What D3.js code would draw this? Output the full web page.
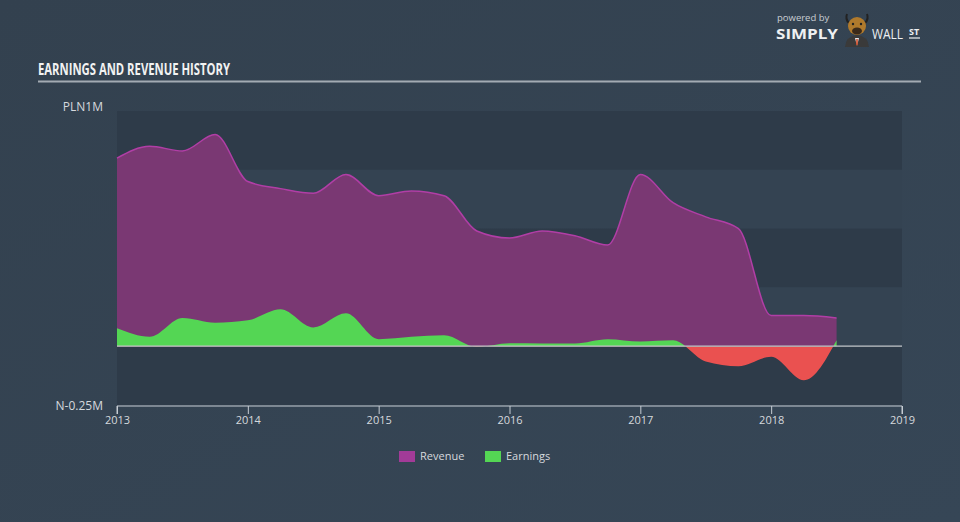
<!DOCTYPE html>
<html>
<head>
<meta charset="utf-8">
<script src="https://cdn.jsdelivr.net/npm/d3@7.9.0/dist/d3.min.js"></script>
<style>
  html, body { margin: 0; padding: 0; background: #344453; }
  svg { display: block; }
  text { font-family: "Open Sans", "DejaVu Sans", sans-serif; }
</style>
</head>
<body>
<svg id="chart" width="960" height="522"></svg>
<script>
// quarterly dates (decimal years) with revenue and earnings in PLN millions
const dates = [2013.0, 2013.25, 2013.5, 2013.75, 2014.0, 2014.25, 2014.5, 2014.75,
  2015.0, 2015.25, 2015.5, 2015.75, 2016.0, 2016.25, 2016.5, 2016.75,
  2017.0, 2017.25, 2017.5, 2017.75, 2018.0, 2018.25, 2018.5];
const revenue = [0.80, 0.85, 0.83, 0.90, 0.70, 0.67, 0.65, 0.73,
  0.64, 0.66, 0.64, 0.49, 0.46, 0.49, 0.47, 0.43,
  0.73, 0.61, 0.55, 0.50, 0.13, 0.13, 0.12];
const earnings = [0.076, 0.04, 0.12, 0.10, 0.11, 0.157, 0.08, 0.14,
  0.03, 0.04, 0.047, -0.003, 0.013, 0.012, 0.012, 0.03,
  0.02, 0.025, -0.065, -0.085, -0.045, -0.145, 0.025];
const yearTicks = [2013, 2014, 2015, 2016, 2017, 2018, 2019];
const bandEdges = [1, 0.75, 0.5, 0.25, 0, -0.25];
const seriesNames = ['Revenue', 'Earnings'];

const svg = d3.select('#chart');

// page background
const defs = svg.append('defs');
const bg = defs.append('linearGradient').attr('id', 'bg')
  .attr('x1', 0).attr('y1', 0).attr('x2', 1).attr('y2', 1);
bg.append('stop').attr('offset', '0%').attr('stop-color', '#33414f');
bg.append('stop').attr('offset', '100%').attr('stop-color', '#364656');
svg.append('rect').attr('width', 960).attr('height', 522).attr('fill', 'url(#bg)');

const x = d3.scaleLinear().domain([2013, 2019]).range([117, 902]);
const y = d3.scaleLinear().domain([-0.25, 1]).range([405, 111]);

// alternating background bands
for (let i = 0; i < bandEdges.length - 1; i++) {
  svg.append('rect')
    .attr('x', x(2013))
    .attr('y', y(bandEdges[i]))
    .attr('width', x(2019) - x(2013))
    .attr('height', y(bandEdges[i + 1]) - y(bandEdges[i]))
    .attr('fill', i % 2 === 0 ? '#2e3b49' : '#344352');
}

// title
svg.append('text')
  .attr('x', 38).attr('y', 75)
  .attr('fill', '#f2f2f2')
  .attr('font-family', '"Liberation Sans Narrow", "DejaVu Sans Condensed", sans-serif')
  .attr('font-weight', 'bold')
  .attr('font-size', 16)
  .attr('textLength', 192)
  .attr('lengthAdjust', 'spacingAndGlyphs')
  .text('EARNINGS AND REVENUE HISTORY');
svg.append('line')
  .attr('x1', 38).attr('x2', 921).attr('y1', 81.5).attr('y2', 81.5)
  .attr('stroke', '#a3abb3').attr('stroke-width', 2);

const data = dates.map((d, i) => ({ t: d, rev: revenue[i], earn: earnings[i] }));
const curve = d3.curveMonotoneX;

// revenue
const revArea = d3.area().x(d => x(d.t)).y0(y(0)).y1(d => y(d.rev)).curve(curve);
const revLine = d3.line().x(d => x(d.t)).y(d => y(d.rev)).curve(curve);
svg.append('path').datum(data).attr('d', revArea).attr('fill', '#7a3873');
svg.append('path').datum(data).attr('d', revLine)
  .attr('fill', 'none').attr('stroke', '#b13ea6').attr('stroke-width', 1.5);

// earnings, green above zero and red below
defs.append('clipPath').attr('id', 'above').append('rect')
  .attr('x', 0).attr('y', 0).attr('width', 960).attr('height', y(0));
defs.append('clipPath').attr('id', 'below').append('rect')
  .attr('x', 0).attr('y', y(0)).attr('width', 960).attr('height', 522 - y(0));
const earnArea = d3.area().x(d => x(d.t)).y0(y(0)).y1(d => y(d.earn)).curve(curve);
svg.append('path').datum(data).attr('d', earnArea)
  .attr('fill', '#54d654').attr('clip-path', 'url(#above)');
svg.append('path').datum(data).attr('d', earnArea)
  .attr('fill', '#ea5150').attr('clip-path', 'url(#below)');

// zero line
svg.append('line')
  .attr('x1', x(2013)).attr('x2', x(2019))
  .attr('y1', y(0)).attr('y2', y(0))
  .attr('stroke', '#c2c6ca').attr('stroke-width', 1.2);

// x axis
const xAxis = svg.append('g')
  .attr('transform', `translate(0,${y(-0.25) + 1})`)
  .call(d3.axisBottom(x).tickValues(yearTicks).tickFormat(d3.format('d')).tickSize(8).tickPadding(2));
xAxis.select('.domain').attr('stroke', '#c6ccd3').attr('d', `M${x(2013)},8V0H${x(2019)}V8`);
xAxis.selectAll('.tick line').attr('stroke', '#c6ccd3');
xAxis.selectAll('.tick text')
  .attr('fill', '#d5d9dd').attr('font-size', 11)
  .attr('font-family', '"Open Sans", sans-serif');

// y labels
svg.append('text').attr('x', 103).attr('y', 111).attr('text-anchor', 'end')
  .attr('fill', '#d5d9dd').attr('font-size', 12).text('PLN1M');
svg.append('text').attr('x', 103).attr('y', 410).attr('text-anchor', 'end')
  .attr('fill', '#d5d9dd').attr('font-size', 12).text('N-0.25M');

// legend
const legendColors = ['#a23b98', '#54d654'];
const legendX = [399, 485];
seriesNames.forEach((name, i) => {
  svg.append('rect').attr('x', legendX[i]).attr('y', 451).attr('width', 16).attr('height', 11)
    .attr('fill', legendColors[i]);
  svg.append('text').attr('x', legendX[i] + 21).attr('y', 460)
    .attr('fill', '#d5d9dd').attr('font-size', 11).text(name);
});

// logo
const logo = svg.append('g');
logo.append('text').attr('x', 777).attr('y', 20.5).attr('fill', '#c9ced3')
  .attr('font-size', 9.5).text('powered by');
logo.append('text').attr('x', 776).attr('y', 39).attr('fill', '#eef0f2')
  .attr('font-size', 14.5).attr('font-weight', 'bold')
  .attr('textLength', 62).attr('lengthAdjust', 'spacingAndGlyphs').text('SIMPLY');
logo.append('text').attr('x', 872).attr('y', 39).attr('fill', '#eef0f2')
  .attr('font-size', 14.5)
  .attr('textLength', 31).attr('lengthAdjust', 'spacingAndGlyphs').text('WALL');
logo.append('text').attr('x', 909).attr('y', 35).attr('fill', '#eef0f2')
  .attr('font-size', 9).attr('font-weight', 'bold').text('ST');
logo.append('line').attr('x1', 909).attr('x2', 920).attr('y1', 38).attr('y2', 38)
  .attr('stroke', '#eef0f2').attr('stroke-width', 1.2);
// bull mascot
logo.append('path').attr('d', 'M845,47 Q846,36 857,35 Q868,36 869,47 Z').attr('fill', '#3a3a3a');
logo.append('path').attr('d', 'M855,38 L857,46 L859,38 Z').attr('fill', '#e8e8e8');
logo.append('line').attr('x1', 857).attr('x2', 857).attr('y1', 39).attr('y2', 45)
  .attr('stroke', '#d0401a').attr('stroke-width', 1.5);
logo.append('path').attr('d', 'M847,14 Q845,19 849,23 M867,14 Q869,19 865,23')
  .attr('stroke', '#222').attr('stroke-width', 2).attr('fill', 'none');
logo.append('ellipse').attr('cx', 857).attr('cy', 26).attr('rx', 9).attr('ry', 9).attr('fill', '#b07a2c');
logo.append('ellipse').attr('cx', 857).attr('cy', 31).attr('rx', 5).attr('ry', 3.5).attr('fill', '#3b2a1a');
logo.append('circle').attr('cx', 853).attr('cy', 24).attr('r', 1.2).attr('fill', '#222');
logo.append('circle').attr('cx', 861).attr('cy', 24).attr('r', 1.2).attr('fill', '#222');
</script>
</body>
</html>
